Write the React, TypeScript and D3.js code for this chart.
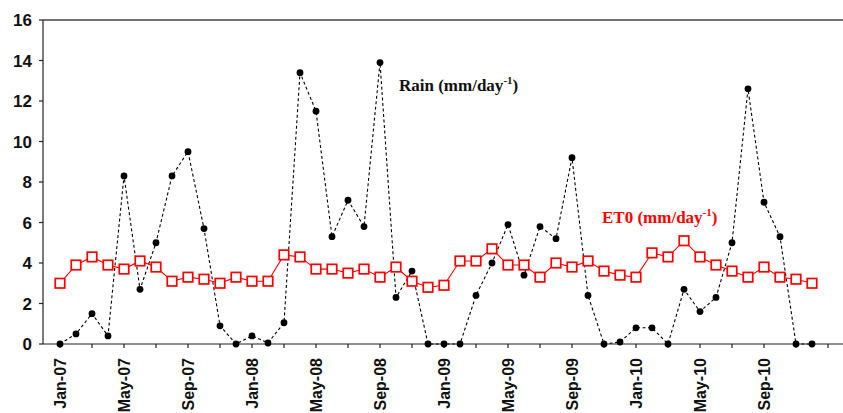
import { useEffect, useRef } from "react";
import * as d3 from "d3";

// monthly values, Jan-07 .. Dec-10
const months = d3.range(48).map((i) => new Date(2007, i, 1));

const rain = [
  0, 0.5, 1.5, 0.4, 8.3, 2.7, 5.0, 8.3, 9.5, 5.7, 0.9, 0,
  0.4, 0.05, 1.05, 13.4, 11.5, 5.3, 7.1, 5.8, 13.9, 2.3, 3.6, 0,
  0, 0, 2.4, 4.0, 5.9, 3.4, 5.8, 5.2, 9.2, 2.4, 0, 0.1,
  0.8, 0.8, 0, 2.7, 1.6, 2.3, 5.0, 12.6, 7.0, 5.3, 0, 0,
];

const et0 = [
  3.0, 3.9, 4.3, 3.9, 3.7, 4.1, 3.8, 3.1, 3.3, 3.2, 3.0, 3.3,
  3.1, 3.1, 4.4, 4.3, 3.7, 3.7, 3.5, 3.7, 3.3, 3.8, 3.1, 2.8,
  2.9, 4.1, 4.1, 4.7, 3.9, 3.9, 3.3, 4.0, 3.8, 4.1, 3.6, 3.4,
  3.3, 4.5, 4.3, 5.1, 4.3, 3.9, 3.6, 3.3, 3.8, 3.3, 3.2, 3.0,
];

const yTicks = [0, 2, 4, 6, 8, 10, 12, 14, 16];

const width = 843;
const height = 413;
const plot = { left: 43, right: 843, top: 20, bottom: 344 };

export default function App() {
  const svgRef = useRef<SVGSVGElement>(null);

  useEffect(() => {
    if (!svgRef.current) return;
    const svg = d3.select(svgRef.current);
    svg.selectAll("*").remove();

    const x = d3.scaleLinear().domain([0, 47]).range([60, 812]);
    const y = d3.scaleLinear().domain([0, 16]).range([plot.bottom, plot.top]);
    const idx = (d: Date) => (d.getFullYear() - 2007) * 12 + d.getMonth();

    const axisColor = "#222";
    const sans = "'Liberation Sans', Arial, Helvetica, sans-serif";
    const serif = "'Liberation Serif', 'Times New Roman', serif";

    // frame: left axis, bottom axis, top border
    svg.append("line")
      .attr("x1", plot.left).attr("x2", plot.left)
      .attr("y1", plot.top).attr("y2", plot.bottom)
      .attr("stroke", axisColor).attr("stroke-width", 1.2);
    svg.append("line")
      .attr("x1", plot.left).attr("x2", plot.right)
      .attr("y1", plot.bottom).attr("y2", plot.bottom)
      .attr("stroke", axisColor).attr("stroke-width", 1.2);
    svg.append("line")
      .attr("x1", plot.left).attr("x2", plot.right)
      .attr("y1", plot.top).attr("y2", plot.top)
      .attr("stroke", "#444").attr("stroke-width", 1.4);

    // y axis
    const yAxis = svg.append("g");
    yAxis.selectAll("line").data(yTicks).join("line")
      .attr("x1", plot.left - 4).attr("x2", plot.left)
      .attr("y1", (d) => y(d)).attr("y2", (d) => y(d))
      .attr("stroke", axisColor).attr("stroke-width", 1.2);
    yAxis.selectAll("text").data(yTicks).join("text")
      .attr("x", 32).attr("y", (d) => y(d)).attr("dy", "0.36em")
      .attr("text-anchor", "end")
      .attr("font-family", sans).attr("font-weight", "bold").attr("font-size", 17)
      .attr("fill", "#111")
      .text((d) => d);

    // x axis: tick every 2 months, label every 4
    const tickIdx = d3.range(0, 49, 2);
    const labelDates = months.filter((_, i) => i % 4 === 0);
    const xAxis = svg.append("g");
    xAxis.selectAll("line").data(tickIdx).join("line")
      .attr("x1", (d) => x(d)).attr("x2", (d) => x(d))
      .attr("y1", plot.bottom).attr("y2", plot.bottom + 4)
      .attr("stroke", axisColor).attr("stroke-width", 1.2);
    xAxis.selectAll("text").data(labelDates).join("text")
      .attr("transform", (d) => `translate(${x(idx(d))},358) rotate(-90)`)
      .attr("dy", "0.36em")
      .attr("text-anchor", "end")
      .attr("font-family", sans).attr("font-weight", "bold").attr("font-size", 16)
      .attr("fill", "#111")
      .text((d) => d3.timeFormat("%b-%y")(d));

    // rain series (dashed, black dots)
    const line = d3.line<number>().x((_, i) => x(i)).y((d) => y(d));
    svg.append("path")
      .datum(rain)
      .attr("d", line)
      .attr("fill", "none")
      .attr("stroke", "#000")
      .attr("stroke-width", 1.1)
      .attr("stroke-dasharray", "3 2.5");
    svg.append("g").selectAll("circle").data(rain).join("circle")
      .attr("cx", (_, i) => x(i)).attr("cy", (d) => y(d))
      .attr("r", 3.4).attr("fill", "#000");

    // ET0 series (solid red, open squares)
    svg.append("path")
      .datum(et0)
      .attr("d", line)
      .attr("fill", "none")
      .attr("stroke", "#ff0000")
      .attr("stroke-width", 1.1);
    const s = 9.5;
    svg.append("g").selectAll("rect").data(et0).join("rect")
      .attr("x", (_, i) => x(i) - s / 2).attr("y", (d) => y(d) - s / 2)
      .attr("width", s).attr("height", s)
      .attr("fill", "#fff").attr("stroke", "#ff0000").attr("stroke-width", 1.7);

    // series labels
    const rainLabel = svg.append("text")
      .attr("x", 399).attr("y", 91)
      .attr("font-family", serif).attr("font-weight", "bold").attr("font-size", 17)
      .attr("fill", "#111");
    rainLabel.append("tspan").text("Rain (mm/day");
    rainLabel.append("tspan").attr("font-size", 11).attr("dy", -7).text("-1");
    rainLabel.append("tspan").attr("dy", 7).text(")");

    const etLabel = svg.append("text")
      .attr("x", 602).attr("y", 223)
      .attr("font-family", serif).attr("font-weight", "bold").attr("font-size", 17)
      .attr("fill", "#ff0000");
    etLabel.append("tspan").text("ET0 (mm/day");
    etLabel.append("tspan").attr("font-size", 11).attr("dy", -7).text("-1");
    etLabel.append("tspan").attr("dy", 7).text(")");
  }, []);

  return (
    <svg
      ref={svgRef}
      width={width}
      height={height}
      style={{ position: "absolute", left: 0, top: 0, background: "#fff" }}
    />
  );
}
